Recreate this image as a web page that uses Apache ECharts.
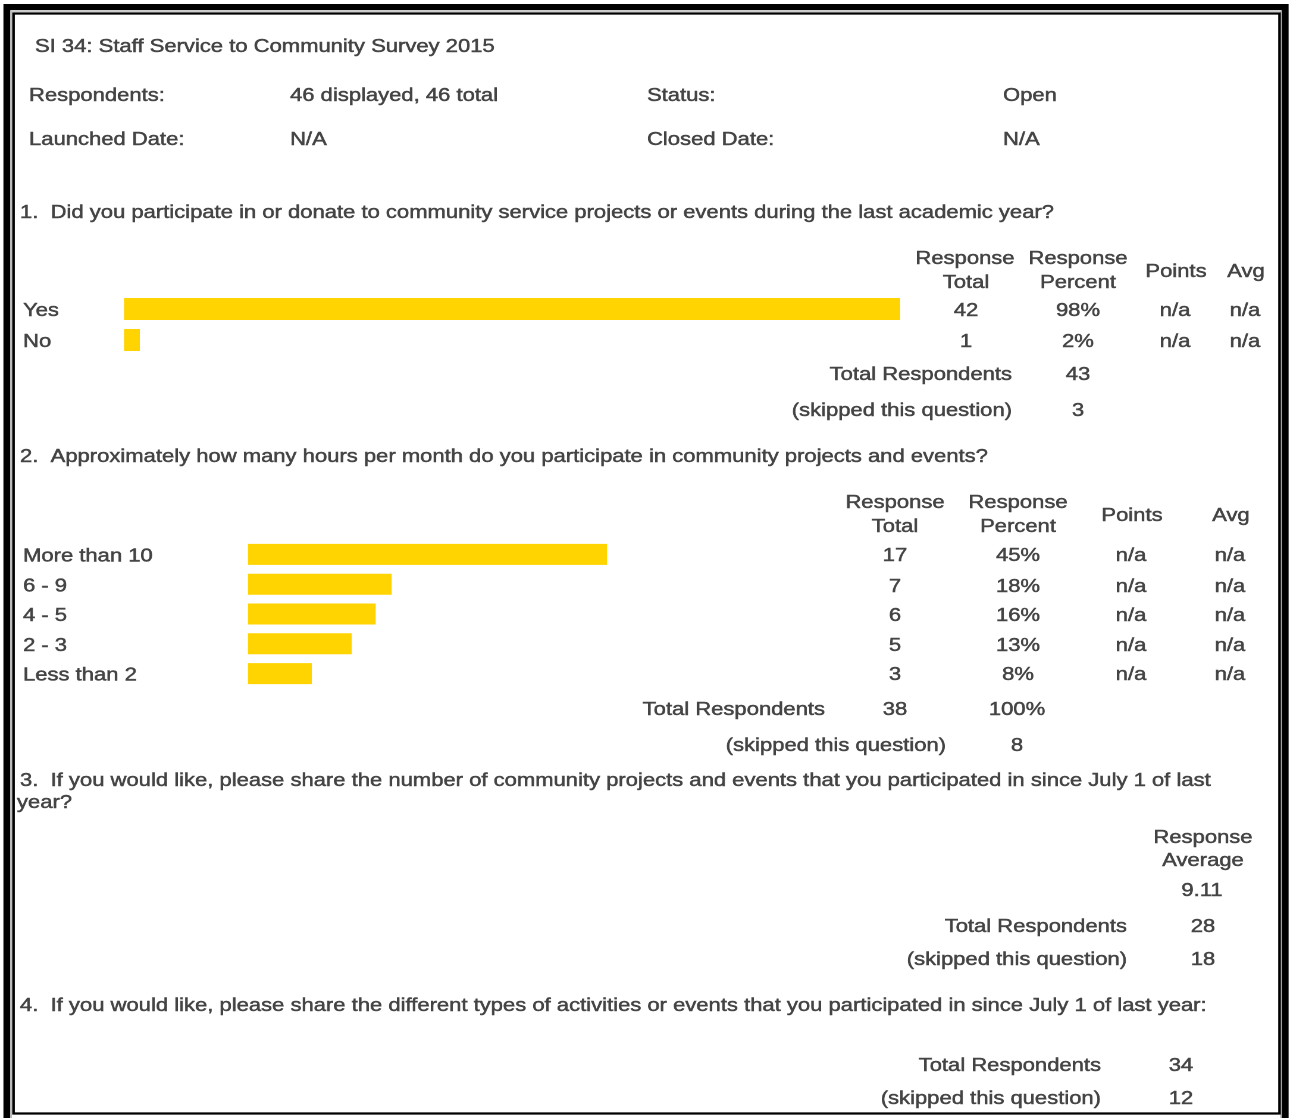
<!DOCTYPE html>
<html>
<head>
<meta charset="utf-8">
<script src="https://cdn.jsdelivr.net/npm/echarts@6/dist/echarts.min.js"></script>
<style>
html,body{margin:0;padding:0;background:#fff;overflow:hidden;}
#wrap{width:1291px;height:1118px;overflow:hidden;position:relative;}
#chart{height:1118px;transform-origin:0 0;}
</style>
</head>
<body>
<div id="wrap"><div id="chart"></div></div>
<script>
// ---------- data ----------
var surveyTitle = 'SI 34: Staff Service to Community Survey 2015';
var infoLabels = ['Respondents:', 'Launched Date:', 'Status:', 'Closed Date:'];
var infoValues = ['46 displayed, 46 total', 'N/A', 'Open', 'N/A'];

var q1Title = '1.  Did you participate in or donate to community service projects or events during the last academic year?';
var q1Categories = ['Yes', 'No'];
var q1Totals = [42, 1];
var q1Percents = [98, 2];
var q1Points = ['n/a', 'n/a'];
var q1Avg = ['n/a', 'n/a'];
var q1Respondents = 43;
var q1Skipped = 3;

var q2Title = '2.  Approximately how many hours per month do you participate in community projects and events?';
var q2Categories = ['More than 10', '6 - 9', '4 - 5', '2 - 3', 'Less than 2'];
var q2Totals = [17, 7, 6, 5, 3];
var q2Percents = [45, 18, 16, 13, 8];
var q2Points = ['n/a', 'n/a', 'n/a', 'n/a', 'n/a'];
var q2Avg = ['n/a', 'n/a', 'n/a', 'n/a', 'n/a'];
var q2Respondents = 38;
var q2RespondentsPct = '100%';
var q2Skipped = 8;

var q3TitleLines = ['3.  If you would like, please share the number of community projects and events that you participated in since July 1 of last', 'year?'];
var q3Average = '9.11';
var q3Respondents = 28;
var q3Skipped = 18;

var q4Title = '4.  If you would like, please share the different types of activities or events that you participated in since July 1 of last year:';
var q4Respondents = 34;
var q4Skipped = 12;

// ---------- layout ----------
var S = 1.19;                 // horizontal stretch of the reference
var W = 1291 / S;
var el = document.getElementById('chart');
el.style.width = W + 'px';
el.style.transform = 'scaleX(' + S + ')';
function X(v) { return v / S; }

var FS = 18.5;
var FAMILY = '"Liberation Sans", Arial, sans-serif';
var FONT = FS + 'px ' + FAMILY;
var COL = '#444';
var BAR = '#FFD400';
var DY = 2;

var g = [];
function T(text, x, y, align) {
  g.push({
    type: 'text', x: X(x), y: y + DY, silent: true,
    style: { text: String(text), font: FONT, fill: COL, align: align || 'left', verticalAlign: 'middle',
             stroke: COL, lineWidth: 0.5 }
  });
}

// border
g.push({ type: 'rect', silent: true, shape: { x: X(7), y: 7, width: X(1278), height: 1125 },
  style: { fill: 'none', stroke: '#000', lineWidth: 6 } });
g.push({ type: 'rect', silent: true, shape: { x: X(11), y: 11, width: X(1270), height: 1110 },
  style: { fill: 'none', stroke: '#bbb', lineWidth: 1.5 } });
g.push({ type: 'rect', silent: true, shape: { x: X(13.5), y: 13.5, width: X(1266), height: 1100 },
  style: { fill: 'none', stroke: '#000', lineWidth: 2.2 } });

// header
T(surveyTitle, 35, 45);
T(infoLabels[0], 29, 94); T(infoValues[0], 290, 94);
T(infoLabels[2], 647, 94); T(infoValues[2], 1003, 94);
T(infoLabels[1], 29, 138); T(infoValues[1], 290, 138);
T(infoLabels[3], 647, 138); T(infoValues[3], 1003, 138);

// Q1
T(q1Title, 20, 211);
T('Response', 965, 257, 'center'); T('Total', 966, 281, 'center');
T('Response', 1078, 257, 'center'); T('Percent', 1078, 281, 'center');
T('Points', 1176, 270, 'center'); T('Avg', 1246, 270, 'center');
var q1RowY = [309, 340];
q1Categories.forEach(function (c, i) {
  T(q1Totals[i], 966, q1RowY[i], 'center');
  T(q1Percents[i] + '%', 1078, q1RowY[i], 'center');
  T(q1Points[i], 1175, q1RowY[i], 'center');
  T(q1Avg[i], 1245, q1RowY[i], 'center');
});
T('Total Respondents', 1012, 373, 'right'); T(q1Respondents, 1078, 373, 'center');
T('(skipped this question)', 1012, 409, 'right'); T(q1Skipped, 1078, 409, 'center');

// Q2
T(q2Title, 20, 455);
T('Response', 895, 501, 'center'); T('Total', 895, 525, 'center');
T('Response', 1018, 501, 'center'); T('Percent', 1018, 525, 'center');
T('Points', 1132, 514, 'center'); T('Avg', 1231, 514, 'center');
var q2RowY = [554, 585, 614, 644, 673];
q2Categories.forEach(function (c, i) {
  T(q2Totals[i], 895, q2RowY[i], 'center');
  T(q2Percents[i] + '%', 1018, q2RowY[i], 'center');
  T(q2Points[i], 1131, q2RowY[i], 'center');
  T(q2Avg[i], 1230, q2RowY[i], 'center');
});
T('Total Respondents', 825, 708, 'right'); T(q2Respondents, 895, 708, 'center'); T(q2RespondentsPct, 1017, 708, 'center');
T('(skipped this question)', 946, 744, 'right'); T(q2Skipped, 1017, 744, 'center');

// Q3
T(q3TitleLines[0], 20, 779);
T(q3TitleLines[1], 17, 801);
T('Response', 1203, 836, 'center'); T('Average', 1203, 859, 'center');
T(q3Average, 1202, 889, 'center');
T('Total Respondents', 1127, 925, 'right'); T(q3Respondents, 1203, 925, 'center');
T('(skipped this question)', 1127, 958, 'right'); T(q3Skipped, 1203, 958, 'center');

// Q4
T(q4Title, 20, 1004);
T('Total Respondents', 1101, 1064, 'right'); T(q4Respondents, 1181, 1064, 'center');
T('(skipped this question)', 1101, 1097, 'right'); T(q4Skipped, 1181, 1097, 'center');

var chart = echarts.init(el, null, { devicePixelRatio: 2 });
var axisLabelStyle = {
  align: 'left',
  formatter: function (v) { return '{l|' + v + '}'; },
  rich: { l: { fontSize: FS, fontFamily: FAMILY, color: COL, textBorderColor: COL, textBorderWidth: 0.5,
               padding: [DY * 2, 0, 0, 0] } }
};

chart.setOption({
  animation: false,
  backgroundColor: '#fff',
  grid: [
    { left: X(124), width: X(792), top: 293.5, height: 62 },
    { left: X(248), width: X(798), top: 539.5, height: 149 }
  ],
  xAxis: [
    { gridIndex: 0, type: 'value', min: 0, max: 100, show: false },
    { gridIndex: 1, type: 'value', min: 0, max: 100, show: false }
  ],
  yAxis: [
    { gridIndex: 0, type: 'category', inverse: true, data: q1Categories,
      axisLine: { show: false }, axisTick: { show: false }, splitLine: { show: false },
      axisLabel: Object.assign({ margin: X(124 - 23) }, axisLabelStyle) },
    { gridIndex: 1, type: 'category', inverse: true, data: q2Categories,
      axisLine: { show: false }, axisTick: { show: false }, splitLine: { show: false },
      axisLabel: Object.assign({ margin: X(248 - 23) }, axisLabelStyle) }
  ],
  series: [
    { type: 'bar', xAxisIndex: 0, yAxisIndex: 0, data: q1Percents, barWidth: 22,
      itemStyle: { color: BAR }, silent: true },
    { type: 'bar', xAxisIndex: 1, yAxisIndex: 1, data: q2Percents, barWidth: 21,
      itemStyle: { color: BAR }, silent: true }
  ],
  graphic: g
});
</script>
</body>
</html>
